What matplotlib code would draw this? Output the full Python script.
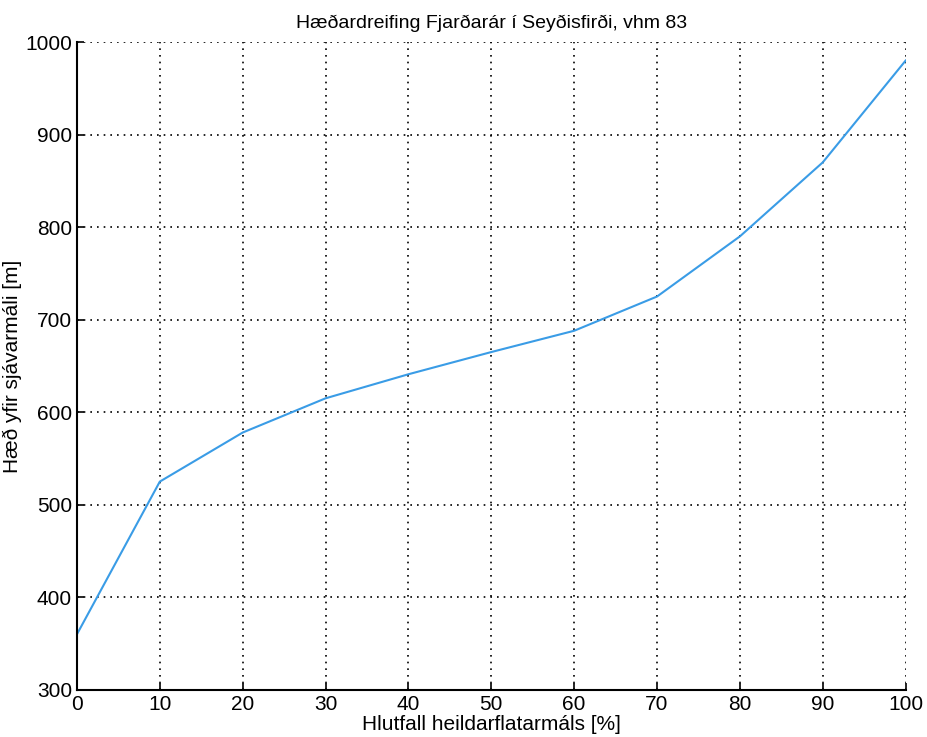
import matplotlib.pyplot as plt

plt.rcParams['font.family'] = ['Liberation Sans', 'DejaVu Sans']

# hlutfall flatarmáls og hæð
x = [0, 10, 20, 30, 40, 50, 60, 70, 80, 90, 100]
h = [360, 525, 578, 615, 641, 665, 688, 725, 790, 870, 980]
xticks = list(range(0, 101, 10))
yticks = list(range(300, 1001, 100))

fig = plt.figure(figsize=(9.27, 7.37), dpi=100)
ax = fig.add_axes([0.083, 0.064, 0.894, 0.879])

ax.plot(x, h, color='#3a9ce6', lw=1.5)

ax.set_xlim(0, 100)
ax.set_ylim(300, 1000)
ax.set_xticks(xticks)
ax.set_yticks(yticks)
ax.tick_params(direction='in', length=5, labelsize=15, width=1.2)
ax.grid(True, color='black', linestyle=(0, (1, 3)), lw=1.2)
ax.spines['top'].set_visible(False)
ax.spines['right'].set_visible(False)
ax.spines['left'].set_linewidth(1.5)
ax.spines['bottom'].set_linewidth(1.5)

ax.set_title('Hæðardreifing Fjarðarár í Seyðisfirði, vhm 83', fontsize=14, pad=10)
ax.set_xlabel('Hlutfall heildarflatarmáls [%]', fontsize=15, labelpad=1)
ax.set_ylabel('Hæð yfir sjávarmáli [m]', fontsize=15, labelpad=2)

fig.savefig('out.png', dpi=100)
